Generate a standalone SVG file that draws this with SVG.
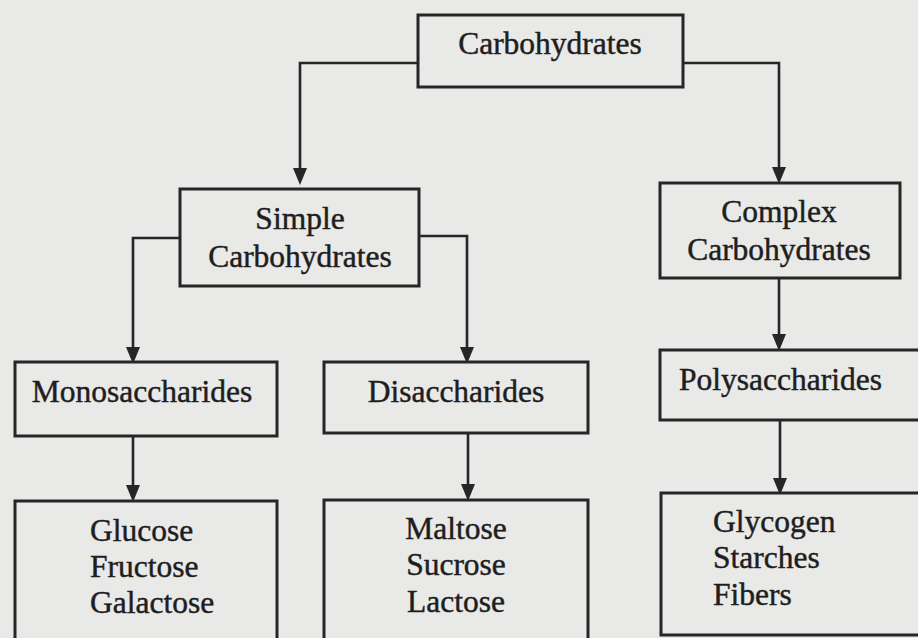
<svg xmlns="http://www.w3.org/2000/svg" width="918" height="638" viewBox="0 0 918 638">
<style>
.box{fill:#e9e9e8;stroke:#262626;stroke-width:3}
.t{font-family:"Liberation Serif","Times New Roman",serif;font-size:31.5px;fill:#1e1e1e;stroke:#1e1e1e;stroke-width:0.45}
.c{text-anchor:middle}
.ln{fill:none;stroke:#262626;stroke-width:2.6}
.ah{fill:#262626}
</style>
<rect width="918" height="638" fill="#e9e9e8"/>
<g id="connectors">
<path class="ln" d="M418,63 H300 V175"/>
<path class="ln" d="M683,63 H779 V174"/>
<path class="ln" d="M180,238 H133 V354"/>
<path class="ln" d="M419,236 H467 V354"/>
<path class="ln" d="M779,278 V341"/>
<path class="ln" d="M133,436 V492"/>
<path class="ln" d="M468,433 V491"/>
<path class="ln" d="M780,420 V485"/>
<g class="ah">
<path d="M293,168 L307,168 L300,185 Z"/>
<path d="M772,167 L786,167 L779,184 Z"/>
<path d="M126,347 L140,347 L133,364 Z"/>
<path d="M460,347 L474,347 L467,364 Z"/>
<path d="M772,334 L786,334 L779,351 Z"/>
<path d="M126,485 L140,485 L133,502 Z"/>
<path d="M461,484 L475,484 L468,501 Z"/>
<path d="M773,478 L787,478 L780,495 Z"/>
</g>
</g>
<g id="carbohydrates">
<rect class="box" x="418" y="15" width="265" height="72"/>
<text class="t c" x="550" y="54">Carbohydrates</text>
</g>
<g id="simple">
<rect class="box" x="180" y="189" width="239" height="97"/>
<text class="t c" x="300" y="229">Simple</text>
<text class="t c" x="300" y="267">Carbohydrates</text>
</g>
<g id="complex">
<rect class="box" x="660" y="183" width="240" height="95"/>
<text class="t c" x="779" y="222">Complex</text>
<text class="t c" x="779" y="260">Carbohydrates</text>
</g>
<g id="mono">
<rect class="box" x="15" y="362" width="262" height="74"/>
<text class="t c" x="142" y="402">Monosaccharides</text>
</g>
<g id="di">
<rect class="box" x="324" y="362" width="264" height="71"/>
<text class="t c" x="456" y="402">Disaccharides</text>
</g>
<g id="poly">
<rect class="box" x="660" y="350" width="262" height="70"/>
<text class="t" x="679" y="390">Polysaccharides</text>
</g>
<g id="monoList">
<rect class="box" x="15" y="501" width="262" height="145"/>
<text class="t" x="90" y="541">Glucose</text>
<text class="t" x="90" y="577">Fructose</text>
<text class="t" x="90" y="613">Galactose</text>
</g>
<g id="diList">
<rect class="box" x="324" y="500" width="264" height="146"/>
<text class="t c" x="456" y="539">Maltose</text>
<text class="t c" x="456" y="575">Sucrose</text>
<text class="t c" x="456" y="612">Lactose</text>
</g>
<g id="polyList">
<rect class="box" x="661" y="493" width="262" height="142"/>
<text class="t" x="713" y="532">Glycogen</text>
<text class="t" x="713" y="568">Starches</text>
<text class="t" x="713" y="605">Fibers</text>
</g>
</svg>
